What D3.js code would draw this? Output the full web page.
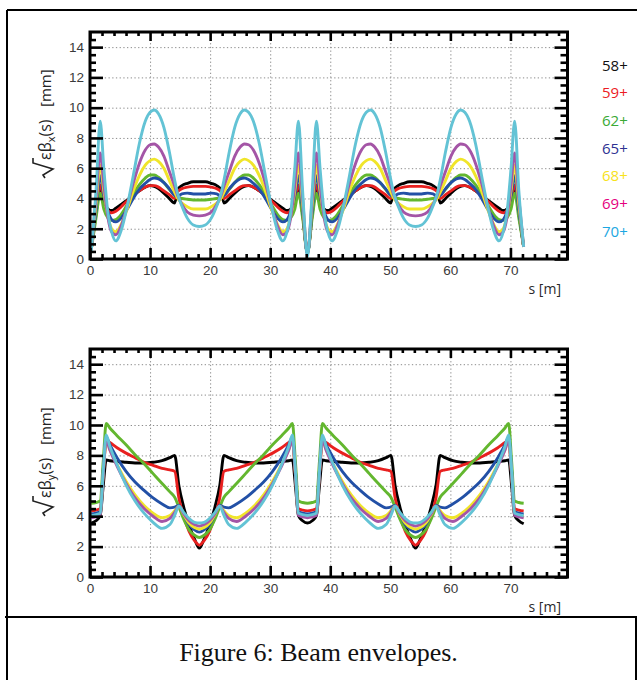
<!DOCTYPE html>
<html>
<head>
<meta charset="utf-8">
<script src="https://cdn.jsdelivr.net/npm/d3@7"></script>
<style>
  body { margin: 0; background: #fff; }
  svg { display: block; }
</style>
</head>
<body>
<div id="chartContainer"></div>
<script>
// Beam envelopes (s in m, envelope in mm)
const chargeStates = ["58+", "59+", "62+", "65+", "68+", "69+", "70+"];
const lineColors = ["#000000", "#e8201f", "#63b72f", "#2250a6", "#f0e52a", "#a455a6", "#63c3d5"];
const legendColors = ["#111111", "#ec1c24", "#3aaa35", "#2e3192", "#f7e21b", "#e5007e", "#1ba7e1"];

const xMajor = [0, 10, 20, 30, 40, 50, 60, 70];
const xMinor = [2, 4, 6, 8, 12, 14, 16, 18, 22, 24, 26, 28, 32, 34, 36, 38, 42, 44, 46, 48, 52, 54, 56, 58, 62, 64, 66, 68, 72, 74, 76, 78];
const yMajor = [0, 2, 4, 6, 8, 10, 12, 14];
const yMinor = [0.5, 1, 1.5, 2.5, 3, 3.5, 4.5, 5, 5.5, 6.5, 7, 7.5, 8.5, 9, 9.5, 10.5, 11, 11.5, 12.5, 13, 13.5, 14.5];

// horizontal plane: s positions
const sX = [0.2, 1.0, 1.7, 2.3, 3.0, 3.6, 4.3, 5.2, 6.2, 7.2, 8.2, 9.2, 10.0, 10.7, 11.4, 12.3, 13.2, 14.1, 14.6, 15.3, 16.2, 17.2, 18.2,
  19.2, 20.2, 21.1, 21.8, 22.3, 23.2, 24.1, 25.0, 25.7, 26.4, 27.2, 28.2, 29.2, 30.2, 31.2, 32.1, 32.8, 33.4, 34.1, 34.7, 35.4, 36.2,
  37.0, 37.7, 38.3, 39.0, 39.6, 40.3, 41.2, 42.2, 43.2, 44.2, 45.2, 46.0, 46.7, 47.4, 48.3, 49.2, 50.1, 50.6, 51.3, 52.2, 53.2, 54.2,
  55.2, 56.2, 57.1, 57.8, 58.3, 59.2, 60.1, 61.0, 61.7, 62.4, 63.2, 64.2, 65.2, 66.2, 67.2, 68.1, 68.8, 69.4, 70.1, 70.7, 71.4, 72.2];

const envX58 = [0.6, 3.0, 4.7, 3.9, 3.3, 3.2, 3.35, 3.6, 3.9, 4.2, 4.5, 4.75, 4.85, 4.8, 4.65, 4.35, 4.0, 3.7, 4.6, 4.85, 5.0, 5.1, 5.1,
  5.1, 5.0, 4.85, 4.6, 3.7, 4.0, 4.35, 4.65, 4.8, 4.85, 4.75, 4.5, 4.2, 3.9, 3.6, 3.35, 3.2, 3.3, 3.9, 4.7, 3.0, 0.4,
  3.0, 4.7, 3.9, 3.3, 3.2, 3.35, 3.6, 3.9, 4.2, 4.5, 4.75, 4.85, 4.8, 4.65, 4.35, 4.0, 3.7, 4.6, 4.85, 5.0, 5.1, 5.1,
  5.1, 5.0, 4.85, 4.6, 3.7, 4.0, 4.35, 4.65, 4.8, 4.85, 4.75, 4.5, 4.2, 3.9, 3.6, 3.35, 3.2, 3.3, 3.9, 4.7, 3.0, 0.8];
const envX59 = [0.6, 3.0, 4.9, 4.0, 3.2, 3.05, 3.15, 3.45, 3.85, 4.2, 4.5, 4.75, 4.85, 4.85, 4.75, 4.5, 4.25, 4.0, 4.45, 4.65, 4.75, 4.8, 4.8,
  4.8, 4.75, 4.65, 4.45, 4.0, 4.25, 4.5, 4.75, 4.85, 4.85, 4.75, 4.5, 4.2, 3.85, 3.45, 3.15, 3.05, 3.2, 4.0, 4.9, 3.0, 0.4,
  3.0, 4.9, 4.0, 3.2, 3.05, 3.15, 3.45, 3.85, 4.2, 4.5, 4.75, 4.85, 4.85, 4.75, 4.5, 4.25, 4.0, 4.45, 4.65, 4.75, 4.8, 4.8,
  4.8, 4.75, 4.65, 4.45, 4.0, 4.25, 4.5, 4.75, 4.85, 4.85, 4.75, 4.5, 4.2, 3.85, 3.45, 3.15, 3.05, 3.2, 4.0, 4.9, 3.0, 0.8];
const envX62 = [0.6, 2.7, 4.35, 3.3, 2.7, 2.55, 2.6, 2.95, 3.6, 4.3, 4.9, 5.35, 5.55, 5.55, 5.4, 5.05, 4.6, 4.2, 4.05, 4.0, 3.95, 3.9, 3.9,
  3.9, 3.95, 4.0, 4.05, 4.2, 4.6, 5.05, 5.4, 5.55, 5.55, 5.35, 4.9, 4.3, 3.6, 2.95, 2.6, 2.55, 2.7, 3.3, 4.35, 2.7, 0.4,
  2.7, 4.35, 3.3, 2.7, 2.55, 2.6, 2.95, 3.6, 4.3, 4.9, 5.35, 5.55, 5.55, 5.4, 5.05, 4.6, 4.2, 4.05, 4.0, 3.95, 3.9, 3.9,
  3.9, 3.95, 4.0, 4.05, 4.2, 4.6, 5.05, 5.4, 5.55, 5.55, 5.35, 4.9, 4.3, 3.6, 2.95, 2.6, 2.55, 2.7, 3.3, 4.35, 2.7, 0.8];
const envX65 = [0.6, 3.2, 5.5, 4.2, 3.1, 2.6, 2.45, 2.7, 3.3, 4.0, 4.6, 5.0, 5.25, 5.35, 5.3, 5.05, 4.65, 4.2, 4.15, 4.3, 4.35, 4.3, 4.3,
  4.3, 4.35, 4.3, 4.15, 4.2, 4.65, 5.05, 5.3, 5.35, 5.25, 5.0, 4.6, 4.0, 3.3, 2.7, 2.45, 2.6, 3.1, 4.2, 5.5, 3.2, 0.4,
  3.2, 5.5, 4.2, 3.1, 2.6, 2.45, 2.7, 3.3, 4.0, 4.6, 5.0, 5.25, 5.35, 5.3, 5.05, 4.65, 4.2, 4.15, 4.3, 4.35, 4.3, 4.3,
  4.3, 4.35, 4.3, 4.15, 4.2, 4.65, 5.05, 5.3, 5.35, 5.25, 5.0, 4.6, 4.0, 3.3, 2.7, 2.45, 2.6, 3.1, 4.2, 5.5, 3.2, 0.8];
const envX68 = [0.6, 3.6, 6.2, 4.5, 2.8, 2.0, 1.8, 2.3, 3.3, 4.5, 5.5, 6.2, 6.5, 6.6, 6.45, 6.0, 5.2, 4.4, 4.0, 3.7, 3.45, 3.3, 3.3,
  3.3, 3.45, 3.7, 4.0, 4.4, 5.2, 6.0, 6.45, 6.6, 6.5, 6.2, 5.5, 4.5, 3.3, 2.3, 1.8, 2.0, 2.8, 4.5, 6.2, 3.6, 0.4,
  3.6, 6.2, 4.5, 2.8, 2.0, 1.8, 2.3, 3.3, 4.5, 5.5, 6.2, 6.5, 6.6, 6.45, 6.0, 5.2, 4.4, 4.0, 3.7, 3.45, 3.3, 3.3,
  3.3, 3.45, 3.7, 4.0, 4.4, 5.2, 6.0, 6.45, 6.6, 6.5, 6.2, 5.5, 4.5, 3.3, 2.3, 1.8, 2.0, 2.8, 4.5, 6.2, 3.6, 0.8];
const envX69 = [0.6, 4.0, 7.0, 4.9, 2.7, 1.8, 1.6, 2.2, 3.5, 5.0, 6.3, 7.2, 7.55, 7.6, 7.4, 6.8, 5.8, 4.8, 4.2, 3.6, 3.1, 2.9, 2.85,
  2.9, 3.1, 3.6, 4.2, 4.8, 5.8, 6.8, 7.4, 7.6, 7.55, 7.2, 6.3, 5.0, 3.5, 2.2, 1.6, 1.8, 2.7, 4.9, 7.0, 4.0, 0.3,
  4.0, 7.0, 4.9, 2.7, 1.8, 1.6, 2.2, 3.5, 5.0, 6.3, 7.2, 7.55, 7.6, 7.4, 6.8, 5.8, 4.8, 4.2, 3.6, 3.1, 2.9, 2.85,
  2.9, 3.1, 3.6, 4.2, 4.8, 5.8, 6.8, 7.4, 7.6, 7.55, 7.2, 6.3, 5.0, 3.5, 2.2, 1.6, 1.8, 2.7, 4.9, 7.0, 4.0, 0.8];
const envX70 = [0.5, 4.5, 9.1, 6.0, 3.0, 1.8, 1.2, 1.9, 3.5, 5.5, 7.6, 9.1, 9.7, 9.85, 9.6, 8.7, 7.1, 5.2, 4.3, 3.5, 2.7, 2.25, 2.15,
  2.25, 2.7, 3.5, 4.3, 5.2, 7.1, 8.7, 9.6, 9.85, 9.7, 9.1, 7.6, 5.5, 3.5, 1.9, 1.2, 1.8, 3.0, 6.0, 9.1, 4.5, 0.15,
  4.5, 9.1, 6.0, 3.0, 1.8, 1.2, 1.9, 3.5, 5.5, 7.6, 9.1, 9.7, 9.85, 9.6, 8.7, 7.1, 5.2, 4.3, 3.5, 2.7, 2.25, 2.15,
  2.25, 2.7, 3.5, 4.3, 5.2, 7.1, 8.7, 9.6, 9.85, 9.7, 9.1, 7.6, 5.5, 3.5, 1.9, 1.2, 1.8, 3.0, 6.0, 9.1, 4.5, 0.8];

// vertical plane: s positions
const sY = [0.2, 1.0, 1.7, 2.2, 2.7, 3.3, 4.5, 6.0, 7.5, 9.0, 10.5, 12.0, 13.3, 14.1, 14.8, 15.6, 16.5, 17.4, 18.2,
  19.0, 19.9, 20.8, 21.6, 22.3, 23.1, 24.4, 25.9, 27.4, 28.9, 30.4, 31.9, 33.1, 33.7, 34.2, 34.7, 35.4, 36.2,
  37.0, 37.7, 38.2, 38.7, 39.3, 40.5, 42.0, 43.5, 45.0, 46.5, 48.0, 49.3, 50.1, 50.8, 51.6, 52.5, 53.4, 54.2,
  55.0, 55.9, 56.8, 57.6, 58.3, 59.1, 60.4, 61.9, 63.4, 64.9, 66.4, 67.9, 69.1, 69.7, 70.2, 70.7, 71.4, 72.2];

const envY58 = [3.55, 3.7, 4.05, 6.0, 7.7, 7.65, 7.6, 7.55, 7.5, 7.5, 7.55, 7.65, 7.85, 8.0, 6.0, 4.6, 3.4, 2.5, 1.9,
  2.5, 3.4, 4.6, 6.0, 8.0, 7.85, 7.65, 7.55, 7.5, 7.5, 7.55, 7.6, 7.65, 7.7, 6.0, 4.05, 3.7, 3.55,
  3.7, 4.05, 6.0, 7.7, 7.65, 7.6, 7.55, 7.5, 7.5, 7.55, 7.65, 7.85, 8.0, 6.0, 4.6, 3.4, 2.5, 1.9,
  2.5, 3.4, 4.6, 6.0, 8.0, 7.85, 7.65, 7.55, 7.5, 7.5, 7.55, 7.6, 7.65, 7.7, 6.0, 4.05, 3.7, 3.5];
const envY59 = [4.35, 4.4, 4.5, 6.8, 9.0, 8.85, 8.5, 8.15, 7.85, 7.55, 7.35, 7.15, 7.05, 6.95, 5.2, 4.0, 3.0, 2.4, 2.1,
  2.4, 3.0, 4.0, 5.2, 6.95, 7.05, 7.15, 7.35, 7.55, 7.85, 8.15, 8.5, 8.85, 9.0, 6.8, 4.5, 4.4, 4.35,
  4.4, 4.5, 6.8, 9.0, 8.85, 8.5, 8.15, 7.85, 7.55, 7.35, 7.15, 7.05, 6.95, 5.2, 4.0, 3.0, 2.4, 2.1,
  2.4, 3.0, 4.0, 5.2, 6.95, 7.05, 7.15, 7.35, 7.55, 7.85, 8.15, 8.5, 8.85, 9.0, 6.8, 4.5, 4.4, 4.35];
const envY62 = [4.85, 4.9, 5.0, 7.6, 10.1, 9.8, 9.3, 8.7, 8.05, 7.45, 6.8, 6.15, 5.6, 5.25, 4.6, 3.8, 3.1, 2.75, 2.6,
  2.75, 3.1, 3.8, 4.6, 5.25, 5.6, 6.15, 6.8, 7.45, 8.05, 8.7, 9.3, 9.8, 10.1, 7.6, 5.0, 4.9, 4.85,
  4.9, 5.0, 7.6, 10.1, 9.8, 9.3, 8.7, 8.05, 7.45, 6.8, 6.15, 5.6, 5.25, 4.6, 3.8, 3.1, 2.75, 2.6,
  2.75, 3.1, 3.8, 4.6, 5.25, 5.6, 6.15, 6.8, 7.45, 8.05, 8.7, 9.3, 9.8, 10.1, 7.6, 5.0, 4.9, 4.85];
const envY65 = [4.15, 4.2, 4.3, 7.0, 9.2, 8.7, 7.85, 6.95, 6.25, 5.7, 5.2, 4.8, 4.55, 4.6, 4.7, 4.1, 3.45, 3.1, 2.95,
  3.1, 3.45, 4.1, 4.7, 4.6, 4.55, 4.8, 5.2, 5.7, 6.25, 6.95, 7.85, 8.7, 9.2, 7.0, 4.3, 4.2, 4.15,
  4.2, 4.3, 7.0, 9.2, 8.7, 7.85, 6.95, 6.25, 5.7, 5.2, 4.8, 4.55, 4.6, 4.7, 4.1, 3.45, 3.1, 2.95,
  3.1, 3.45, 4.1, 4.7, 4.6, 4.55, 4.8, 5.2, 5.7, 6.25, 6.95, 7.85, 8.7, 9.2, 7.0, 4.3, 4.2, 4.15];
const envY68 = [4.0, 4.05, 4.15, 6.8, 9.0, 8.4, 7.4, 6.3, 5.4, 4.7, 4.2, 3.9, 4.05, 4.35, 4.65, 4.1, 3.55, 3.25, 3.15,
  3.25, 3.55, 4.1, 4.65, 4.35, 4.05, 3.9, 4.2, 4.7, 5.4, 6.3, 7.4, 8.4, 9.0, 6.8, 4.15, 4.05, 4.0,
  4.05, 4.15, 6.8, 9.0, 8.4, 7.4, 6.3, 5.4, 4.7, 4.2, 3.9, 4.05, 4.35, 4.65, 4.1, 3.55, 3.25, 3.15,
  3.25, 3.55, 4.1, 4.65, 4.35, 4.05, 3.9, 4.2, 4.7, 5.4, 6.3, 7.4, 8.4, 9.0, 6.8, 4.15, 4.05, 4.0];
const envY69 = [3.9, 3.95, 4.05, 6.7, 9.0, 8.35, 7.3, 6.15, 5.2, 4.5, 4.0, 3.65, 3.85, 4.25, 4.65, 4.15, 3.7, 3.45, 3.35,
  3.45, 3.7, 4.15, 4.65, 4.25, 3.85, 3.65, 4.0, 4.5, 5.2, 6.15, 7.3, 8.35, 9.0, 6.7, 4.05, 3.95, 3.9,
  3.95, 4.05, 6.7, 9.0, 8.35, 7.3, 6.15, 5.2, 4.5, 4.0, 3.65, 3.85, 4.25, 4.65, 4.15, 3.7, 3.45, 3.35,
  3.45, 3.7, 4.15, 4.65, 4.25, 3.85, 3.65, 4.0, 4.5, 5.2, 6.15, 7.3, 8.35, 9.0, 6.7, 4.05, 3.95, 3.9];
const envY70 = [4.05, 4.1, 4.2, 7.0, 9.35, 8.6, 7.4, 6.05, 5.0, 4.2, 3.6, 3.2, 3.45, 4.05, 4.65, 4.25, 3.85, 3.6, 3.55,
  3.6, 3.85, 4.25, 4.65, 4.05, 3.45, 3.2, 3.6, 4.2, 5.0, 6.05, 7.4, 8.6, 9.35, 7.0, 4.2, 4.1, 4.05,
  4.1, 4.2, 7.0, 9.35, 8.6, 7.4, 6.05, 5.0, 4.2, 3.6, 3.2, 3.45, 4.05, 4.65, 4.25, 3.85, 3.6, 3.55,
  3.6, 3.85, 4.25, 4.65, 4.05, 3.45, 3.2, 3.6, 4.2, 5.0, 6.05, 7.4, 8.6, 9.35, 7.0, 4.2, 4.1, 4.05];

// Declare the figure dimensions.
const width = 637;
const height = 680;
const marginLeft = 90;
const plotRight = 567.5;

const svg = d3.create("svg")
    .attr("width", width)
    .attr("height", height)
    .attr("viewBox", [0, 0, width, height])
    .style("font-family", "'Open Sans', 'DejaVu Sans', sans-serif");

svg.append("rect").attr("width", width).attr("height", height).attr("fill", "#fff");

// Outer document frame
svg.append("path")
    .attr("d", "M7,10H637M7,10V680M5,617H637M636,617V680")
    .attr("fill", "none")
    .attr("stroke", "#000")
    .attr("stroke-width", 2);

function drawPanel(top, bottom, sVals, series, sub, labelY) {
    const x = d3.scaleLinear().domain([0, 79.5]).range([marginLeft, plotRight]);
    const y = d3.scaleLinear().domain([0, 15]).range([bottom, top]);
    const g = svg.append("g");

    // dotted grid
    g.append("g")
        .attr("transform", `translate(0,${bottom})`)
        .call(d3.axisBottom(x).tickValues(xMajor.slice(1)).tickSize(-(bottom - top)).tickFormat(""))
        .call(a => a.select(".domain").remove())
        .call(a => a.selectAll("line").attr("stroke", "#8c8c8c").attr("stroke-width", 1).attr("stroke-dasharray", "1.3,2.4"));
    g.append("g")
        .attr("transform", `translate(${marginLeft},0)`)
        .call(d3.axisLeft(y).tickValues(yMajor.slice(1)).tickSize(-(plotRight - marginLeft)).tickFormat(""))
        .call(a => a.select(".domain").remove())
        .call(a => a.selectAll("line").attr("stroke", "#8c8c8c").attr("stroke-width", 1).attr("stroke-dasharray", "1.3,2.4"));

    // envelope lines
    const line = d3.line()
        .x(d => x(d[0]))
        .y(d => y(d[1]))
        .curve(d3.curveMonotoneX);
    series.forEach((vals, i) => {
        g.append("path")
            .datum(d3.zip(sVals, vals))
            .attr("fill", "none")
            .attr("stroke", lineColors[i])
            .attr("stroke-width", 2.9)
            .attr("stroke-linejoin", "round")
            .attr("d", line);
    });

    // ticks on all four sides, pointing inward
    const tickStyle = a => {
        a.select(".domain").remove();
        a.selectAll("line").attr("stroke", "#000").attr("stroke-width", 2.6);
        a.selectAll("text").attr("fill", "#3a3a3a").attr("font-size", 13.5);
    };
    g.append("g").attr("transform", `translate(0,${bottom})`)
        .call(d3.axisBottom(x).tickValues(xMajor).tickSize(-11).tickPadding(6).tickFormat(d3.format("d"))).call(tickStyle);
    g.append("g").attr("transform", `translate(0,${bottom})`)
        .call(d3.axisBottom(x).tickValues(xMinor).tickSize(-5).tickFormat("")).call(tickStyle);
    g.append("g").attr("transform", `translate(0,${top})`)
        .call(d3.axisTop(x).tickValues(xMajor).tickSize(-9).tickFormat("")).call(tickStyle);
    g.append("g").attr("transform", `translate(0,${top})`)
        .call(d3.axisTop(x).tickValues(xMinor).tickSize(-4).tickFormat("")).call(tickStyle);
    g.append("g").attr("transform", `translate(${marginLeft},0)`)
        .call(d3.axisLeft(y).tickValues(yMajor).tickSize(-13).tickPadding(6).tickFormat(d3.format("d"))).call(tickStyle);
    g.append("g").attr("transform", `translate(${marginLeft},0)`)
        .call(d3.axisLeft(y).tickValues(yMinor).tickSize(-6).tickFormat("")).call(tickStyle);
    g.append("g").attr("transform", `translate(${plotRight},0)`)
        .call(d3.axisRight(y).tickValues(yMajor).tickSize(-13).tickFormat("")).call(tickStyle);
    g.append("g").attr("transform", `translate(${plotRight},0)`)
        .call(d3.axisRight(y).tickValues(yMinor).tickSize(-7).tickFormat("")).call(tickStyle);

    // plot frame
    g.append("rect")
        .attr("x", marginLeft)
        .attr("y", top)
        .attr("width", plotRight - marginLeft)
        .attr("height", bottom - top)
        .attr("fill", "none")
        .attr("stroke", "#000")
        .attr("stroke-width", 3);

    // x-axis title
    g.append("text")
        .attr("x", 561)
        .attr("y", bottom + 35)
        .attr("text-anchor", "end")
        .attr("font-size", 14)
        .attr("fill", "#2a2a2a")
        .text("s [m]");

    // y-axis title: sqrt(eps*beta(s)) [mm], rotated
    const lab = g.append("g").attr("transform", `translate(43,${labelY}) rotate(-90)`);
    const t = lab.append("text")
        .attr("x", -35)
        .attr("y", 8)
        .attr("font-size", 16)
        .attr("fill", "#222");
    t.append("tspan").text("εβ");
    t.append("tspan").attr("font-size", 11).attr("dy", 4).text(sub);
    t.append("tspan").attr("dy", -4).text("(s)");
    const tw = t.node().getComputedTextLength();
    lab.append("path")
        .attr("d", `M-53,2L-50,0L-44,10L-38,-10L${-35 + tw + 2},-10`)
        .attr("fill", "none")
        .attr("stroke", "#222")
        .attr("stroke-width", 1.6);
    lab.append("text")
        .attr("x", 18)
        .attr("y", 8)
        .attr("font-size", 15)
        .attr("fill", "#222")
        .text("[mm]");
}

drawPanel(32, 259, sX, [envX58, envX59, envX62, envX65, envX68, envX69, envX70], "x", 125);
drawPanel(349, 577, sY, [envY58, envY59, envY62, envY65, envY68, envY69, envY70], "y", 463);

// Legend
svg.append("g")
    .selectAll("text")
    .data(chargeStates)
    .join("text")
    .attr("x", 602)
    .attr("y", (d, i) => 70.5 + i * 27.7)
    .attr("font-size", 15)
    .attr("fill", (d, i) => legendColors[i])
    .text(d => d);

// Caption
svg.append("text")
    .attr("x", 318.5)
    .attr("y", 661)
    .attr("text-anchor", "middle")
    .attr("font-family", "'Liberation Serif', 'Times New Roman', serif")
    .attr("font-size", 26)
    .attr("fill", "#111")
    .text("Figure 6: Beam envelopes.");

document.getElementById("chartContainer").appendChild(svg.node());
</script>
</body>
</html>
